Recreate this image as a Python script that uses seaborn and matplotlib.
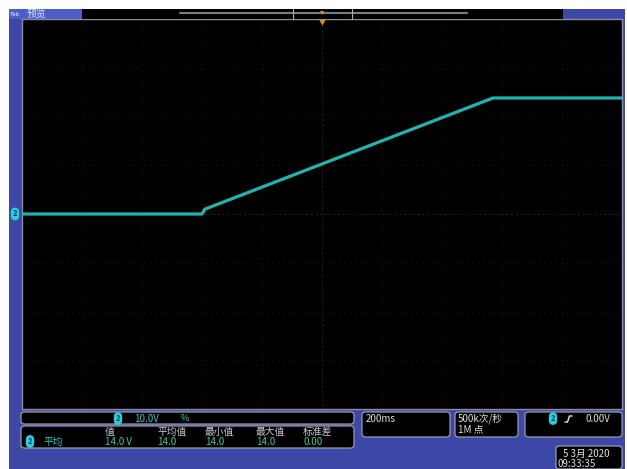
import numpy as np
import pandas as pd
import seaborn as sns
import matplotlib.pyplot as plt
from matplotlib.patches import Rectangle, FancyBboxPatch
from matplotlib.lines import Line2D

# waveform (channel 2), time in s, trigger at 0, 200 ms/div, 10 V/div
time_s = [-1.0, -0.40, -0.39, 0.57, 1.0]
volts = [0.0, 0.0, 1.0, 23.8, 23.8]

# measurement table
meas_headers = ["值", "平均值", "最小值", "最大值", "标准差"]
meas_values = ["14.0 V", "14.0", "14.0", "14.0", "0.00"]
meas_name = "平均"

W, H = 627, 469
BLUE = "#3d48a6"
WAVE = "#20b4ae"


def fx(x):
    return x / W


def fy(y):
    return 1 - y / H


sns.set_style("dark")
plt.rcParams["font.family"] = ["Noto Sans CJK SC", "DejaVu Sans"]

fig = plt.figure(figsize=(W / 100, H / 100), dpi=100)
fig.patch.set_facecolor("white")


def rect(x0, y0, x1, y1, fc, ec="none", lw=0, rounded=False, z=0):
    if rounded:
        p = FancyBboxPatch((fx(x0), fy(y1)), fx(x1) - fx(x0), fy(y0) - fy(y1),
                           boxstyle="round,pad=0,rounding_size=0.006",
                           transform=fig.transFigure, fc=fc, ec=ec, lw=lw, zorder=z)
    else:
        p = Rectangle((fx(x0), fy(y1)), fx(x1) - fx(x0), fy(y0) - fy(y1),
                      transform=fig.transFigure, fc=fc, ec=ec, lw=lw, zorder=z)
    fig.add_artist(p)


def line(xs, ys, color, lw=1, z=3):
    fig.add_artist(Line2D([fx(x) for x in xs], [fy(y) for y in ys],
                          transform=fig.transFigure, color=color, lw=lw, zorder=z))


def txt(x, y, s, color="#d8d8d8", size=6.5, **kw):
    fig.text(fx(x), fy(y), s, color=color, fontsize=size, va="center", ha="left", **kw)


def badge(x, y):
    fig.text(fx(x), fy(y), "2", color="#10306a", fontsize=5.5, ha="center", va="center",
             fontweight="bold",
             bbox=dict(boxstyle="round,pad=0.25,rounding_size=0.6", fc="#28d0d8", ec="none"))


# scope frame
rect(9, 9, 625, 469, BLUE)

# top status bar
rect(9, 9, 82, 19, "#4d5ec9", z=1)
rect(82, 9, 563, 19, "black", z=1)
line([180, 467], [13.5, 13.5], "#7a7a8c", lw=1.5)
line([293, 293], [9, 19], "#b0b0b0", lw=0.8)
line([352, 352], [9, 19], "#b0b0b0", lw=0.8)
txt(10, 14, "Tek", color="#c0c8ff", size=4, fontweight="bold")
txt(27, 14, "预览", color="#e0e4ff", size=7)
fig.text(fx(322), fy(12), "▾", color="#e09020", fontsize=6, ha="center", va="center")

# plot area
ax = fig.add_axes([fx(22), fy(409), fx(622) - fx(22), fy(19) - fy(409)])
ax.set_facecolor("black")
df = pd.DataFrame({"t": time_s, "v": volts})
sns.lineplot(data=df, x="t", y="v", ax=ax, color=WAVE, lw=2.3, zorder=5)
ax.set_xlim(-1.0, 1.0)
ax.set_ylim(-40, 40)
ax.set_xticks(np.linspace(-1.0, 1.0, 11))
ax.set_yticks(np.linspace(-40, 40, 9))
ax.grid(True, color="#1c1c1c", linestyle=(0, (1, 4)), lw=0.8)
ax.axvline(0, color="#2c2c2c", linestyle=(0, (1, 3)), lw=0.8)
ax.axhline(0, color="#2c2c2c", linestyle=(0, (1, 3)), lw=0.8)
ax.tick_params(left=False, bottom=False, labelleft=False, labelbottom=False)
ax.set_xlabel("")
ax.set_ylabel("")
for s in ax.spines.values():
    s.set_color("#8c8c9c")
    s.set_linewidth(1)
ax.annotate("▼", xy=(0, 1), xycoords=("data", "axes fraction"), color="#e09020",
            fontsize=5, ha="center", va="top")

# channel marker on the left
badge(15, 214)

# bottom readouts
rect(21, 412, 354, 424, "black", ec="#a8a8b8", lw=0.8, rounded=True, z=1)
badge(118, 418.5)
txt(134, 418.5, "10.0V", color="#30c8c0", size=7)
txt(181, 418.5, "%", color="#30c8c0", size=6.5)

rect(21, 426, 354, 448, "black", ec="#a8a8b8", lw=0.8, rounded=True, z=1)
hx = [105, 157, 205, 256, 303]
for x, h in zip(hx, meas_headers):
    txt(x, 432, h, color="#c8c8d0", size=7)
badge(30, 441.5)
txt(44, 441.5, meas_name, color="#30c8c0", size=7)
for x, v in zip(hx, meas_values):
    txt(x, 441.5, v, color="#40c8a0", size=7)

rect(362, 412, 450, 437, "black", ec="#a8a8b8", lw=0.8, rounded=True, z=1)
txt(366, 418.5, "200ms", color="#e0e0e0", size=7)

rect(455, 412, 518, 437, "black", ec="#a8a8b8", lw=0.8, rounded=True, z=1)
txt(458, 418.5, "500k次/秒", color="#e0e0e0", size=7)
txt(458, 429, "1M 点", color="#e0e0e0", size=7)

rect(525, 412, 622, 437, "black", ec="#a8a8b8", lw=0.8, rounded=True, z=1)
badge(553, 418.5)
line([565, 567.5, 569.5, 572], [422, 422, 416, 416], "#e8e8e8", lw=1)
txt(585, 418.5, "0.00V", color="#e0e0e0", size=7)

rect(556, 446, 622, 469, "black", ec="#a8a8b8", lw=0.8, rounded=True, z=1)
txt(563, 454, "5 3月 2020", color="#e0e0e0", size=7)
txt(558, 463.5, "09:33:35", color="#e0e0e0", size=7)

fig.savefig("out.png", dpi=100, facecolor=fig.get_facecolor())
